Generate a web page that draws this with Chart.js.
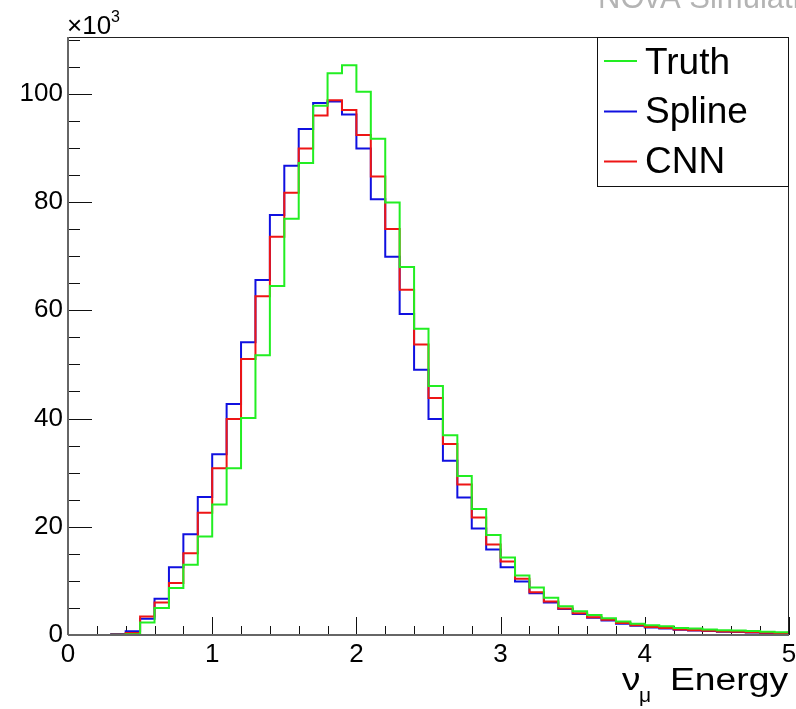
<!DOCTYPE html>
<html>
<head>
<meta charset="utf-8">
<script src="https://cdn.jsdelivr.net/npm/chart.js@4/dist/chart.umd.min.js"></script>
<style>
html,body{margin:0;padding:0;background:#fff;}
canvas{display:block;}
</style>
</head>
<body>
<canvas id="c" width="796" height="709"></canvas>
<script>
// Bin edges (GeV), 50 bins of width 0.1
const binEdges = [0.0,0.1,0.2,0.3,0.4,0.5,0.6,0.7,0.8,0.9,
  1.0,1.1,1.2,1.3,1.4,1.5,1.6,1.7,1.8,1.9,
  2.0,2.1,2.2,2.3,2.4,2.5,2.6,2.7,2.8,2.9,
  3.0,3.1,3.2,3.3,3.4,3.5,3.6,3.7,3.8,3.9,
  4.0,4.1,4.2,4.3,4.4,4.5,4.6,4.7,4.8,4.9,5.0];

// Bin contents in units of 10^3
const truthCounts = [0,0,0,0.05,0.15,2.3,5.0,8.7,13.0,18.2,
  24.1,30.8,40.1,51.7,64.5,76.9,87.2,97.8,103.8,105.3,
  100.4,91.7,79.9,68.0,56.6,46.0,36.9,29.4,23.3,18.5,
  14.3,11.0,8.8,6.9,5.3,4.4,3.7,3.1,2.5,2.1,
  1.8,1.6,1.3,1.2,1.0,0.9,0.85,0.75,0.6,0.5];
const splineCounts = [0,0,0,0.2,0.7,3.0,6.7,12.5,18.6,25.5,
  33.4,42.7,54.1,65.6,77.6,86.7,93.5,98.3,98.6,96.2,
  89.9,80.5,69.9,59.3,49.0,39.9,32.2,25.4,19.7,15.8,
  12.5,9.9,7.7,6.0,4.8,3.9,3.2,2.7,2.1,1.7,
  1.4,1.2,0.95,0.85,0.75,0.6,0.55,0.45,0.35,0.3];
const cnnCounts = [0,0,0,0.1,0.35,3.4,6.0,9.6,15.1,22.6,
  30.8,39.9,51.0,62.6,73.6,81.7,89.9,96.0,98.8,97.0,
  92.4,84.7,75.0,63.8,53.7,43.8,35.3,27.8,21.7,16.7,
  13.6,10.4,7.9,6.2,4.9,4.0,3.3,2.8,2.2,1.8,
  1.5,1.3,1.0,0.9,0.8,0.65,0.6,0.5,0.4,0.35];

const seriesLabels = ['Truth','Spline','CNN'];
const xTickValues = [0,1,2,3,4,5];
const yTickValues = [0,20,40,60,80,100];

const FONT = "'Liberation Sans', Arial, Helvetica, sans-serif";
const colors = {Truth:'#22ee22', Spline:'#1010e0', CNN:'#ee1515'};

function histPoints(vals){
  return binEdges.map((x,i)=>({x:x, y: vals[Math.min(i, vals.length-1)]}));
}

const decorPlugin = {
  id:'decor',
  beforeDatasetsDraw(chart){
    const ctx = chart.ctx, a = chart.chartArea;
    const xs = chart.scales.x, ys = chart.scales.y;
    ctx.save();
    ctx.strokeStyle = '#111';
    ctx.lineWidth = 1;
    ctx.beginPath();
    for (let k=0;k<=25;k++){
      const v = k*0.2;
      const px = Math.round(xs.getPixelForValue(v))+0.5;
      const major = (k%5===0);
      const len = major?18:9;
      ctx.moveTo(px, a.bottom);
      ctx.lineTo(px, a.bottom-len);
    }
    for (let v=0; v<=110; v+=5){
      const py = Math.round(ys.getPixelForValue(v))+0.5;
      const major = (v%20===0);
      const len = major?24:12;
      ctx.moveTo(a.left, py);
      ctx.lineTo(a.left+len, py);
    }
    ctx.stroke();
    ctx.restore();
  },
  afterDraw(chart){
    const ctx = chart.ctx, a = chart.chartArea;
    ctx.save();
    ctx.strokeStyle = '#222';
    ctx.lineWidth = 1;
    ctx.strokeRect(a.left+0.5, a.top+0.5, a.right-a.left-1, a.bottom-a.top);
    ctx.strokeStyle = '#666';
    ctx.lineWidth = 2;
    ctx.beginPath();
    ctx.moveTo(a.left, a.top); ctx.lineTo(a.left, a.bottom);
    ctx.moveTo(a.left, a.bottom); ctx.lineTo(a.right, a.bottom);
    ctx.stroke();

    // legend box
    ctx.strokeStyle = '#111';
    ctx.lineWidth = 1;
    ctx.fillStyle = '#fff';
    ctx.fillRect(597.5, a.top+0.5, a.right-598, 149);
    ctx.strokeRect(597.5, a.top+0.5, a.right-598, 149);
    const ds = chart.data.datasets;
    const rowY = [61, 111.5, 161.5];
    const baseY = [74, 123, 173];
    ctx.font = '37px ' + FONT;
    ctx.textBaseline = 'alphabetic';
    ctx.textAlign = 'left';
    ds.forEach((d,i)=>{
      ctx.strokeStyle = d.borderColor;
      ctx.lineWidth = 2;
      ctx.beginPath();
      ctx.moveTo(604, rowY[i]); ctx.lineTo(637, rowY[i]);
      ctx.stroke();
      ctx.fillStyle = '#000';
      ctx.fillText(d.label, 645, baseY[i]);
    });

    // x10^3 multiplier
    ctx.fillStyle = '#000';
    ctx.font = '26px ' + FONT;
    ctx.fillText('\u00d710', 67, 34);
    const w10 = ctx.measureText('\u00d710').width;
    ctx.font = '16px ' + FONT;
    ctx.fillText('3', 67 + w10 + 0, 22);

    // axis title
    ctx.font = '32px ' + FONT;
    ctx.save();
    ctx.translate(622, 690);
    ctx.scale(1.15, 1);
    ctx.fillText('\u03bd', 0, 0);
    ctx.restore();
    ctx.font = '21px ' + FONT;
    ctx.fillText('\u03bc', 639, 702);
    ctx.font = '31px ' + FONT;
    const we = ctx.measureText('Energy').width;
    ctx.save();
    ctx.translate(670, 690);
    ctx.scale(118/we, 1);
    ctx.fillText('Energy', 0, 0);
    ctx.restore();

    // partially visible label at top right
    ctx.fillStyle = '#b4b4b4';
    ctx.font = '31px ' + FONT;
    ctx.fillText('NOvA Simulation', 598, 8);
    ctx.restore();
  }
};

const datasets = [
  {label:seriesLabels[0], data:histPoints(truthCounts), borderColor:colors.Truth, order:0},
  {label:seriesLabels[1], data:histPoints(splineCounts), borderColor:colors.Spline, order:2},
  {label:seriesLabels[2], data:histPoints(cnnCounts), borderColor:colors.CNN, order:1}
].map(d=>Object.assign(d,{stepped:'before', borderWidth:2, pointRadius:0, fill:false, tension:0}));

new Chart(document.getElementById('c'), {
  type:'line',
  data:{datasets},
  options:{
    responsive:false,
    animation:false,
    devicePixelRatio:1,
    layout:{padding:{top:37, right:7, left:0, bottom:0}},
    plugins:{legend:{display:false}, tooltip:{enabled:false}},
    scales:{
      x:{
        type:'linear', min:0, max:5,
        grid:{display:false, drawTicks:false, tickLength:0},
        border:{display:false},
        afterFit(s){ s.height = 74; s.paddingLeft = 0; s.paddingRight = 0; },
        afterBuildTicks(s){ s.ticks = xTickValues.map(v=>({value:v})); },
        ticks:{font:{family:FONT, size:26}, color:'#000', padding:4, maxRotation:0, autoSkip:false}
      },
      y:{
        type:'linear', min:0, max:110.5,
        grid:{display:false, drawTicks:false, tickLength:0},
        border:{display:false},
        afterFit(s){ s.width = 68; s.paddingTop = 0; s.paddingBottom = 0; },
        afterBuildTicks(s){ s.ticks = yTickValues.map(v=>({value:v})); },
        ticks:{font:{family:FONT, size:26}, color:'#000', padding:5, autoSkip:false}
      }
    }
  },
  plugins:[decorPlugin]
});
</script>
</body>
</html>
